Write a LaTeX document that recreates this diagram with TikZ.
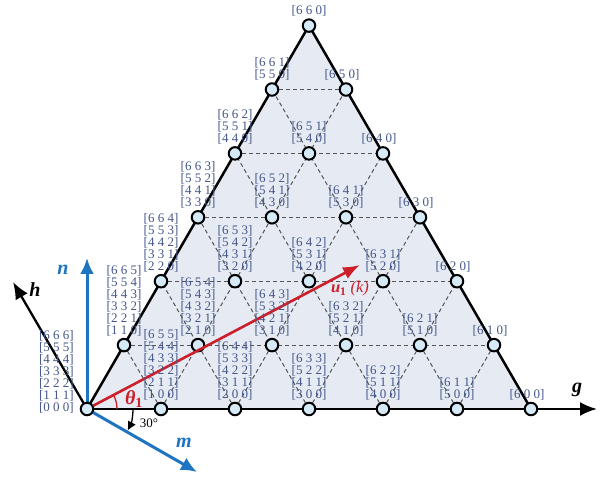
\documentclass[tikz,border=0pt]{standalone}
\usepackage{fontspec}
\setmainfont{Liberation Serif}
\usetikzlibrary{arrows.meta}
\definecolor{labc}{HTML}{44578A}
\definecolor{trif}{HTML}{E5EAF3}
\definecolor{vtxf}{HTML}{D4EAF7}
\definecolor{axblue}{HTML}{1F74C2}
\definecolor{vred}{HTML}{CC1F2A}
\definecolor{gridc}{HTML}{555555}
\begin{document}
\begin{tikzpicture}[x=1pt,y=1pt,
  lab/.style={text=labc, font=\fontsize{13}{12}\selectfont, align=center, inner sep=0pt, anchor=south},
  vtx/.style={circle, draw=black, line width=2pt, fill=vtxf, minimum size=12.5pt, inner sep=0pt},
  gridl/.style={draw=gridc, line width=1pt, dash pattern=on 4pt off 3pt},
  edgel/.style={line width=2.5pt, black, line join=round},
  axk/.style={line width=2.3pt, black, -{Latex[length=17pt,width=14pt]}},
  axb/.style={line width=3pt, axblue, -{Latex[length=16pt,width=14pt]}},
  axlab/.style={font=\fontsize{20}{20}\selectfont\bfseries\itshape, inner sep=1pt},
]
\useasboundingbox (0,0) rectangle (608,479);
% lattice points
\foreach \g in {0,...,6}{
  \pgfmathtruncatemacro\hmax{6-\g}
  \foreach \h in {0,...,\hmax}{
    \coordinate (p\g\h) at ({87+74*(\g+\h/2)},{70+63.9*\h});
  }
}
% triangle fill
\fill[trif] (p00) -- (p60) -- (p06) -- cycle;
% dashed grid
\foreach \i in {1,...,5}{
  \pgfmathtruncatemacro\j{6-\i}
  \draw[gridl] (p0\i) -- (p\j\i);
  \draw[gridl] (p\i0) -- (p\i\j);
  \draw[gridl] (p\i0) -- (p0\i);
}
% axes
\coordinate (gend) at (597,70);
\coordinate (hend) at (13,197);
\coordinate (nend) at (87,221);
\coordinate (mend) at (197,7);
\coordinate (uend) at (360,214);
\draw[axb] (p00) -- (nend);
\draw[axb] (p00) -- (mend);
\draw[axk] (p00) -- (hend);
\draw[axk, line width=2.5pt] (p00) -- (gend);
\draw[edgel] (p00) -- (p06) -- (p60);
% angle arcs
\draw[vred, line width=1.3pt] (p00) ++(30pt,0) arc[start angle=0, end angle=27.8, radius=30pt];
\draw[black, line width=1.3pt, -{Latex[length=9pt,width=9pt]}] (p00) ++(46pt,0) arc[start angle=0, end angle=-28, radius=46pt];
% vertices
\foreach \g in {0,...,6}{
  \pgfmathtruncatemacro\hmax{6-\g}
  \foreach \h in {0,...,\hmax}{
    \node[vtx] (v\g\h) at (p\g\h) {};
  }
}
% reference vector
\draw[vred, line width=2.6pt, -{Latex[length=17pt,width=13pt]}] (v00) -- (uend);
% vector labels
\foreach \g in {0,...,6}{
  \pgfmathtruncatemacro\hmax{6-\g}
  \foreach \h in {0,...,\hmax}{
    \pgfmathtruncatemacro\nmax{6-\g-\h}
    \gdef\lbl{}
    \foreach \k in {0,...,\nmax}{
      \pgfmathtruncatemacro\va{6-\k}
      \pgfmathtruncatemacro\vb{6-\g-\k}
      \pgfmathtruncatemacro\vc{6-\g-\h-\k}
      \ifnum\k=0
        \xdef\lbl{{[}\va\ \vb\ \vc]}
      \else
        \xdef\lbl{\unexpanded\expandafter{\lbl}\noexpand\\{[}\va\ \vb\ \vc]}
      \fi
    }
    \pgfmathtruncatemacro\sumgh{\g+\h}
    \pgfmathsetmacro\xs{(\sumgh==6)*(\h<6)*(-4)}
    \ifnum\sumgh=0
      \node[lab, anchor=south east] (l\g\h) at ([xshift=-13pt,yshift=-4pt]p\g\h) {\lbl};
    \else
      \node[lab] (l\g\h) at ([xshift=\xs pt,yshift=9pt]p\g\h) {\lbl};
    \fi
  }
}
% axis and other texts
\node[axlab] (glab) at (577,89) {g};
\node[axlab] (hlab) at (35,189) {h};
\node[axlab, text=axblue] (nlab) at (63,209) {n};
\node[axlab, text=axblue] (mlab) at (184,36) {m};
\node[text=vred, font=\fontsize{16.5}{16.5}\selectfont, inner sep=0pt] (ulab) at (350,190)
  {{\bfseries\itshape u}\textsubscript{\bfseries 1}\ {\itshape(k)}};
\node[text=vred, font=\fontsize{20}{20}\selectfont, inner sep=0pt] (thlab) at (134,80)
  {{\bfseries\itshape θ}\textsubscript{\bfseries 1}};
\node[font=\fontsize{13}{13}\selectfont, inner sep=0pt] (deg) at (149,56) {30°};
\end{tikzpicture}
\end{document}
